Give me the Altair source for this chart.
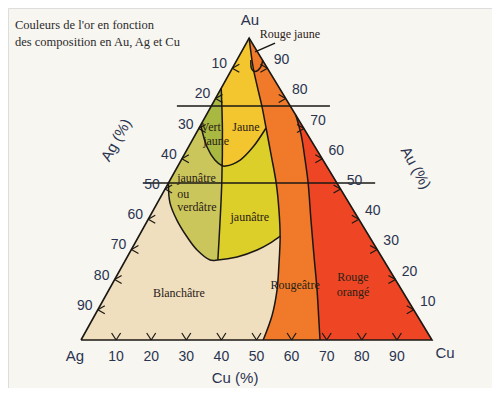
import altair as alt
import pandas as pd

APEX = 0.479  # position of the Au vertex along the Ag-Cu base (fraction)

# ---- boundary curves, compositions in % : (Cu, Au) ; Ag = 100 - Cu - Au
C1_CU = [0, 5.9, 9.7, 14.6, 19.1, 24.8, 30.7, 35.8, 40.4, 44.5, 47.9, 50.5, 51.9]
C1_AU = [100, 90.1, 84.4, 77.2, 70.2, 61.3, 52.0, 43.0, 34.1, 24.8, 16.6, 8.3, 0]
C2_CU = [25.5, 30.2, 35.3, 39.8, 46.5, 52.9, 59.3, 64.6, 68.1]
C2_AU = [74.5, 67.9, 59.6, 52.0, 39.7, 28.1, 16.6, 6.6, 0]
V_CU = [0, 7.0, 15.2, 26.3]
V_AU = [83.4, 69.5, 52.0, 26.5]
ARC_CU = [0, 5.3, 9.6, 12.6, 13.6, 16.8, 18.4, 19.1]
ARC_AU = [71.2, 63.9, 59.6, 57.7, 57.6, 59.6, 63.9, 70.2]
LOBE_CU = [0, 3.6, 8.3, 13.9, 18.8, 24.1, 26.3, 31.3, 35.9, 38.5, 40.3]
LOBE_AU = [52.0, 45.4, 39.7, 34.1, 29.8, 26.5, 26.5, 27.5, 29.8, 32.1, 34.4]
SMALL_ARC_CU = [4.0, 5.6, 7.0, 7.9, 7.4]
SMALL_ARC_AU = [92.7, 89.8, 88.9, 90.3, 92.6]
POINTER_CU = [3.9, 8.2]
POINTER_AU = [95.4, 98.3]
H_AU = [77.5, 52.0]
H_CU_FROM = [-9.8, -7.3]
H_CU_TO = [33.8, 58.9]

TICKS = [10, 20, 30, 40, 50, 60, 70, 80, 90]

REGION_NAMES = ["Blanchâtre", "Rougeâtre", "Rouge orangé", "jaunâtre ou verdâtre",
                "jaunâtre", "Vert jaune", "Jaune"]
REGION_COLORS = ["#efdfbf", "#f07a2a", "#ee4624", "#cbc65c", "#dccf2a", "#a9b840", "#f3c52e"]

# ---- text labels: position along base (% of Ag-Cu side) and height (% of Au height)
TITLE_LINES = ["Couleurs de l'or en fonction", "des composition  en Au, Ag et Cu"]
TITLE_X = [-18.8, -18.8]
TITLE_Y = [104.3, 98.7]
REGION_TEXT = ["Rouge jaune", "Vert", "jaune", "Jaune", "jaunâtre", "ou", "verdâtre",
               "jaunâtre", "Blanchâtre", "Rougeâtre", "Rouge", "orangé"]
REGION_TEXT_X = [59.5, 37.0, 38.5, 47.0, 27.4, 27.4, 27.4, 48.1, 27.9, 61.0, 77.5, 77.5]
REGION_TEXT_Y = [101.3, 70.5, 65.9, 70.5, 53.6, 48.3, 44.0, 40.7, 15.6, 18.2, 20.9, 15.9]
REGION_TEXT_ALIGN = ["center", "center", "center", "center", "left", "left", "left",
                     "center", "center", "center", "center", "center"]
VERTEX_TEXT = ["Au", "Ag", "Cu", "Cu (%)"]
VERTEX_X = [48.1, -1.7, 103.7, 43.9]
VERTEX_Y = [106.0, -5.3, -4.3, -12.6]
SIDE_TITLE = ["Ag (%)", "Au (%)"]
SIDE_X = [10.0, 95.4]
SIDE_Y = [66.2, 57.0]
SIDE_ANGLE = [299, 61]

# ---- layout
W, H = 484, 380
BASE_LEFT, BASE_PX, BASE_Y, HEIGHT_PX = 73, 351, 332, 302
x_dom = [-BASE_LEFT / BASE_PX, (W - BASE_LEFT) / BASE_PX]
y_dom = [-(H - BASE_Y) / HEIGHT_PX, BASE_Y / HEIGHT_PX]
xs = alt.Scale(domain=x_dom)
ys = alt.Scale(domain=y_dom)


def tern(cu, au):
    return cu / 100 + APEX * au / 100, au / 100


def pts(cu, au):
    return list(zip(cu, au))


def poly_df(points, name="p"):
    rows = []
    for i, (cu, au) in enumerate(points):
        x, y = tern(cu, au)
        rows.append({"i": i, "x": x, "y": y, "g": name})
    return pd.DataFrame(rows)


C1 = pts(C1_CU, C1_AU)
C2 = pts(C2_CU, C2_AU)
V = pts(V_CU, V_AU)
ARC = pts(ARC_CU, ARC_AU)
LOBE = pts(LOBE_CU, LOBE_AU)

region_points = [
    [(0, 0), (100, 0), (0, 100)],
    C1 + [(100, 0)],
    C2 + [(100, 0)],
    [V[0]] + LOBE[0:7] + V[::-1][1:],
    V + LOBE[7:] + [p for p in C1 if p[1] > LOBE[-1][1]][::-1],
    [V[0]] + ARC[0:4] + [V[1]],
    [(0, 100), V[0], V[1]] + ARC[3:] + C1[1:4][::-1],
]

X = lambda: alt.X("x:Q", scale=xs, axis=None)
Y = lambda: alt.Y("y:Q", scale=ys, axis=None)

layers = []
for name, color, p in zip(REGION_NAMES, REGION_COLORS, region_points):
    layers.append(
        alt.Chart(poly_df(p, name)).mark_line(
            filled=True, interpolate="linear-closed", fill=color, strokeWidth=0
        ).encode(x=X(), y=Y(), order="i:Q")
    )

LINE_COLOR = "#1b1814"
# straight lines
straight = {"tri": [(0, 0), (100, 0), (0, 100), (0, 0)], "ptr": pts(POINTER_CU, POINTER_AU)}
for k, (au, c0, c1) in enumerate(zip(H_AU, H_CU_FROM, H_CU_TO)):
    straight[f"h{k}"] = [(c0, au), (c1, au)]
straight_df = pd.concat([poly_df(v, k) for k, v in straight.items()])
layers.append(
    alt.Chart(straight_df).mark_line(color=LINE_COLOR, strokeWidth=1.6).encode(
        x=X(), y=Y(), order="i:Q", detail="g:N"
    )
)
# curved boundaries
curves = {"c1": C1, "c2": C2, "v": V, "arc": ARC, "lobe": LOBE,
          "small": pts(SMALL_ARC_CU, SMALL_ARC_AU)}
curve_df = pd.concat([poly_df(v, k) for k, v in curves.items()])
layers.append(
    alt.Chart(curve_df).mark_line(color=LINE_COLOR, strokeWidth=1.5, interpolate="catmull-rom").encode(
        x=X(), y=Y(), order="i:Q", detail="g:N"
    )
)

# tick glyphs: "<" on the Ag side, "v" on the Cu side, ">" on the Au side
A = 7 / BASE_PX
B = 4 / HEIGHT_PX
C = 4.5 / BASE_PX
D = 7 / HEIGHT_PX
segs = []
for t in TICKS:
    x0, y0 = tern(0, 100 - t)
    segs += [(x0, y0, x0 + A, y0 + B), (x0, y0, x0 + A, y0 - B)]
    x0, y0 = tern(t, 0)
    segs += [(x0, y0, x0 - C, y0 + D), (x0, y0, x0 + C, y0 + D)]
    x0, y0 = tern(100 - t, t)
    segs += [(x0, y0, x0 - A, y0 + B), (x0, y0, x0 - A, y0 - B)]
seg_df = pd.DataFrame(segs, columns=["x", "y", "x2", "y2"])
layers.append(
    alt.Chart(seg_df).mark_rule(color=LINE_COLOR, strokeWidth=1.2).encode(
        x=X(), y=Y(), x2="x2:Q", y2="y2:Q"
    )
)

AXIS_COLOR = "#2a3450"
SANS = "Liberation Sans"
SERIF = "Liberation Serif"


def label_df(side):
    rows = []
    for t in TICKS:
        if side == "left":
            x, y = tern(0, 100 - t)
        elif side == "bottom":
            x, y = tern(t, 0)
        else:
            x, y = tern(100 - t, t)
        rows.append({"x": x, "y": y, "t": str(t)})
    return pd.DataFrame(rows)


for side, dx, dy in [("left", -13, -4), ("bottom", 0, 17), ("right", 14, -8)]:
    layers.append(
        alt.Chart(label_df(side)).mark_text(
            font=SANS, fontSize=14, color=AXIS_COLOR, dx=dx, dy=dy, baseline="middle"
        ).encode(x=X(), y=Y(), text="t:N")
    )


def text_df(texts, xp, yp):
    return pd.DataFrame({"t": texts, "x": [v / 100 for v in xp], "y": [v / 100 for v in yp]})


layers.append(
    alt.Chart(text_df(VERTEX_TEXT, VERTEX_X, VERTEX_Y)).mark_text(
        font=SANS, fontSize=15, color=AXIS_COLOR, baseline="middle"
    ).encode(x=X(), y=Y(), text="t:N")
)
for t, xp, yp, ang in zip(SIDE_TITLE, SIDE_X, SIDE_Y, SIDE_ANGLE):
    layers.append(
        alt.Chart(text_df([t], [xp], [yp])).mark_text(
            font=SANS, fontSize=15, color=AXIS_COLOR, baseline="middle", angle=ang
        ).encode(x=X(), y=Y(), text="t:N")
    )
layers.append(
    alt.Chart(text_df(TITLE_LINES, TITLE_X, TITLE_Y)).mark_text(
        font=SERIF, fontSize=12.5, color="#2b2b2b", align="left", baseline="middle"
    ).encode(x=X(), y=Y(), text="t:N")
)
for align in ["center", "left"]:
    idx = [i for i, a in enumerate(REGION_TEXT_ALIGN) if a == align]
    layers.append(
        alt.Chart(text_df([REGION_TEXT[i] for i in idx], [REGION_TEXT_X[i] for i in idx],
                          [REGION_TEXT_Y[i] for i in idx])).mark_text(
            font=SERIF, fontSize=12, color="#2a2016", align=align, baseline="middle"
        ).encode(x=X(), y=Y(), text="t:N")
    )

chart = alt.layer(*layers).properties(width=W, height=H, padding=0).configure_view(
    stroke=None
).configure(background="#f8f6f1")

chart.save("out.html", embed_options={"renderer": "svg", "actions": False})
